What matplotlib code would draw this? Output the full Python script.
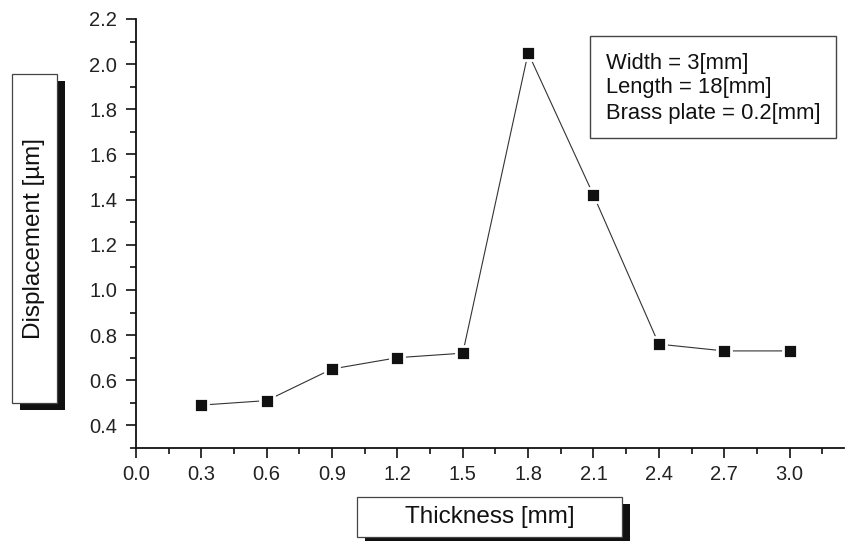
import matplotlib.pyplot as plt
from matplotlib.patches import Rectangle
from matplotlib.ticker import FixedLocator, MultipleLocator

plt.rcParams['font.family'] = ['Liberation Sans', 'DejaVu Sans']

thickness = [0.3, 0.6, 0.9, 1.2, 1.5, 1.8, 2.1, 2.4, 2.7, 3.0]
displacement = [0.49, 0.51, 0.65, 0.70, 0.72, 2.05, 1.42, 0.76, 0.73, 0.73]

xticks = [0.0, 0.3, 0.6, 0.9, 1.2, 1.5, 1.8, 2.1, 2.4, 2.7, 3.0]
yticks = [0.4, 0.6, 0.8, 1.0, 1.2, 1.4, 1.6, 1.8, 2.0, 2.2]
xlabel = "Thickness [mm]"
ylabel = "Displacement [\u00b5m]"
notes = ["Width = 3[mm]", "Length = 18[mm]", "Brass plate = 0.2[mm]"]

W, H = 848, 541
fig = plt.figure(figsize=(W / 100, H / 100), dpi=100)
ax = fig.add_axes([136 / W, (H - 448) / H, (844 - 136) / W, (448 - 19) / H])

ax.plot(thickness, displacement, color='#333333', lw=0.8, marker='s',
        ms=9.6, mfc='#111111', mec='white', mew=2.0, clip_on=False)

ax.set_xlim(0, 3.25)
ax.set_ylim(0.3, 2.2)
ax.xaxis.set_major_locator(FixedLocator(xticks))
ax.set_xticklabels([f"{v:.1f}" for v in xticks])
ax.xaxis.set_minor_locator(MultipleLocator(0.15))
ax.yaxis.set_major_locator(FixedLocator(yticks))
ax.set_yticklabels([f"{v:.1f}" for v in yticks])
ax.yaxis.set_minor_locator(MultipleLocator(0.1))

for s in ['top', 'right']:
    ax.spines[s].set_visible(False)
for s in ['left', 'bottom']:
    ax.spines[s].set_linewidth(1.3)
    ax.spines[s].set_color('#111111')

ax.tick_params(which='major', direction='out', length=7.5, width=1.2,
               labelsize=14.5, color='#111111', labelcolor='#222222')
ax.tick_params(which='minor', direction='out', length=4, width=1.2,
               color='#111111')
ax.tick_params(axis='y', which='major', pad=6)
ax.tick_params(axis='x', which='major', pad=5)


def label_box(x0, y0, w, h, text, rot, size):
    # shadow first, then white box on top
    fig.add_artist(Rectangle(((x0 + 8) / W, (H - y0 - h - 7) / H), w / W, h / H,
                             transform=fig.transFigure, facecolor='#111111',
                             edgecolor='none'))
    fig.add_artist(Rectangle((x0 / W, (H - y0 - h) / H), w / W, h / H,
                             transform=fig.transFigure, facecolor='white',
                             edgecolor='#444444', lw=0.9))
    fig.text((x0 + w / 2) / W, (H - y0 - h / 2) / H, text, rotation=rot,
             ha='center', va='center', fontsize=size, color='#111111')


label_box(12, 74, 45, 329, ylabel, 90, 17.5)
label_box(357, 497, 265, 40, xlabel, 0, 17.5)

# parameter box
fig.add_artist(Rectangle((590 / W, (H - 138) / H), 246 / W, 102 / H,
                         transform=fig.transFigure, facecolor='white',
                         edgecolor='#444444', lw=1.0))
fig.text(606 / W, (H - 88) / H, "\n".join(notes), ha='left', va='center',
         fontsize=15.8, linespacing=1.25, color='#111111')

fig.savefig("out.png", dpi=100)
